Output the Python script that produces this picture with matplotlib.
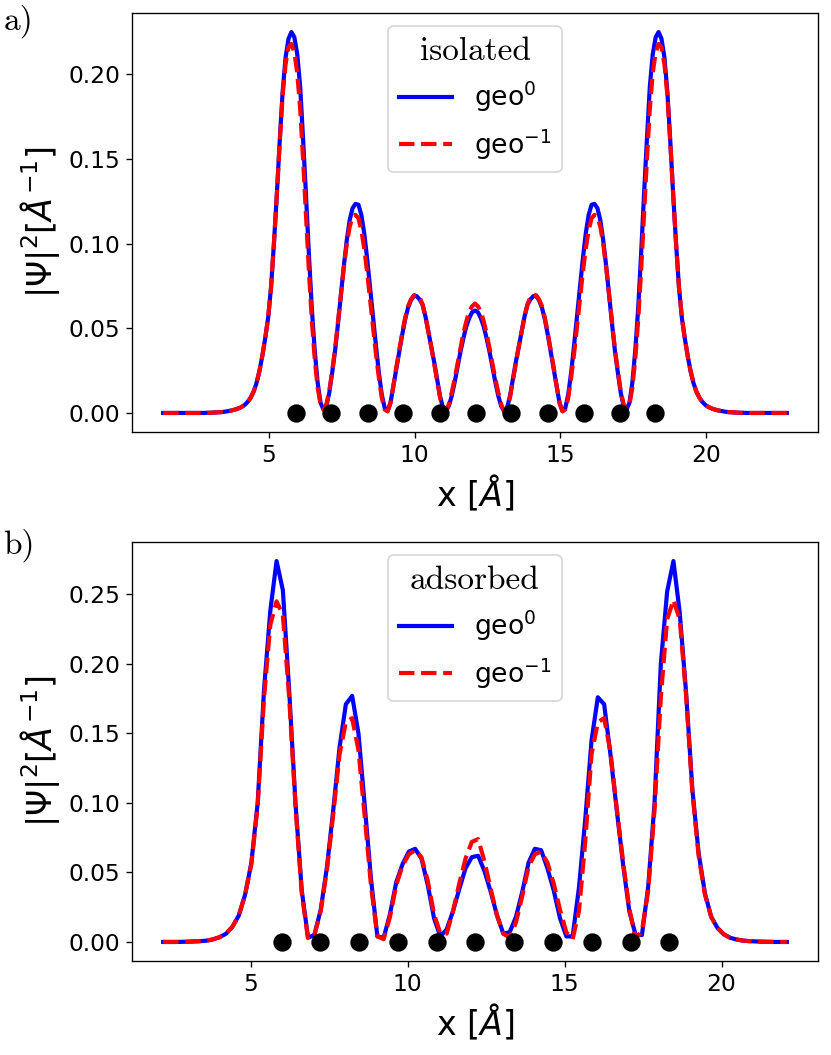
import numpy as np
import matplotlib
matplotlib.use('Agg')
from matplotlib import pyplot as plt
from matplotlib.ticker import MultipleLocator


# sampling grid (start, stop) of the two calculations
xa_start, xa_stop = 1.37, 22.77
xb_start, xb_stop = 2.21, 22.08

# isolated chain, |Psi|^2 on the grid
iso_geo0 = [
    0.0, 0.0, 0.0, 0.0, 0.0, 0.0, 0.0, 0.0, 0.0, 0.0, 0.0, 0.0, 0.0, 0.0, 0.0,
    0.0001, 0.0001, 0.0002, 0.0003, 0.0004, 0.0005, 0.0007, 0.0010, 0.0013, 0.0017,
    0.0022, 0.0028, 0.0036, 0.0048, 0.0066, 0.0090, 0.0125, 0.0175, 0.0245, 0.0335,
    0.044, 0.056, 0.074, 0.100, 0.129, 0.161, 0.190, 0.210, 0.221, 0.225,
    0.222, 0.212, 0.193, 0.162, 0.129, 0.094, 0.062, 0.037, 0.018, 0.006,
    0.002, 0.004, 0.012, 0.024, 0.037, 0.053, 0.070, 0.087, 0.102, 0.114,
    0.121, 0.1235, 0.123, 0.117, 0.106, 0.091, 0.074, 0.057, 0.040, 0.024,
    0.011, 0.003, 0.001, 0.006, 0.016, 0.026, 0.036, 0.046, 0.055, 0.062,
    0.0665, 0.069, 0.069, 0.067, 0.064, 0.057, 0.048, 0.039, 0.030, 0.020,
    0.010, 0.003, 0.001, 0.004, 0.010, 0.018, 0.027, 0.036, 0.044, 0.051,
    0.056, 0.0595, 0.0605,
    0.0595, 0.056, 0.051, 0.044, 0.036, 0.027, 0.018, 0.010, 0.004, 0.001,
    0.003, 0.010, 0.020, 0.030, 0.039, 0.048, 0.057, 0.064, 0.067, 0.069,
    0.069, 0.0665, 0.062, 0.055, 0.046, 0.036, 0.026, 0.016, 0.006, 0.001,
    0.003, 0.011, 0.024, 0.040, 0.057, 0.074, 0.091, 0.106, 0.117, 0.123,
    0.1235, 0.121, 0.114, 0.102, 0.087, 0.070, 0.053, 0.037, 0.024, 0.012,
    0.004, 0.002, 0.006, 0.018, 0.037, 0.062, 0.094, 0.129, 0.162, 0.193,
    0.212, 0.222, 0.225, 0.221, 0.210, 0.190, 0.161, 0.129, 0.100, 0.074,
    0.056, 0.044, 0.0335, 0.0245, 0.0175, 0.0125, 0.0090, 0.0066, 0.0048, 0.0036,
    0.0028, 0.0022, 0.0017, 0.0013, 0.0010, 0.0007, 0.0005, 0.0004, 0.0003, 0.0002,
    0.0001, 0.0001,
    0.0, 0.0, 0.0, 0.0, 0.0, 0.0, 0.0, 0.0, 0.0, 0.0, 0.0, 0.0, 0.0, 0.0, 0.0,
]
iso_geo1 = [
    0.0, 0.0, 0.0, 0.0, 0.0, 0.0, 0.0, 0.0, 0.0, 0.0, 0.0, 0.0, 0.0, 0.0, 0.0,
    0.0001, 0.0001, 0.0002, 0.0003, 0.0004, 0.0005, 0.0007, 0.0010, 0.0013, 0.0017,
    0.0022, 0.0028, 0.0036, 0.0048, 0.0066, 0.0090, 0.0125, 0.0175, 0.0245, 0.0335,
    0.044, 0.056, 0.074, 0.100, 0.129, 0.160, 0.188, 0.206, 0.216, 0.218,
    0.213, 0.201, 0.180, 0.150, 0.117, 0.084, 0.055, 0.032, 0.015, 0.005,
    0.002, 0.005, 0.013, 0.025, 0.038, 0.054, 0.070, 0.086, 0.100, 0.110,
    0.116, 0.117, 0.115, 0.108, 0.097, 0.083, 0.067, 0.051, 0.035, 0.021,
    0.009, 0.002, 0.001, 0.006, 0.016, 0.027, 0.037, 0.047, 0.056, 0.063,
    0.067, 0.0695, 0.070, 0.0685, 0.064, 0.057, 0.048, 0.039, 0.029, 0.019,
    0.009, 0.003, 0.001, 0.005, 0.012, 0.020, 0.029, 0.038, 0.047, 0.054,
    0.060, 0.063, 0.0646,
    0.063, 0.060, 0.054, 0.047, 0.038, 0.029, 0.020, 0.012, 0.005, 0.001,
    0.003, 0.009, 0.019, 0.029, 0.039, 0.048, 0.057, 0.064, 0.0685, 0.070,
    0.0695, 0.067, 0.063, 0.056, 0.047, 0.037, 0.027, 0.016, 0.006, 0.001,
    0.002, 0.009, 0.021, 0.035, 0.051, 0.067, 0.083, 0.097, 0.108, 0.115,
    0.117, 0.116, 0.110, 0.100, 0.086, 0.070, 0.054, 0.038, 0.025, 0.013,
    0.005, 0.002, 0.005, 0.015, 0.032, 0.055, 0.084, 0.117, 0.150, 0.180,
    0.201, 0.213, 0.218, 0.216, 0.206, 0.188, 0.160, 0.129, 0.100, 0.074,
    0.056, 0.044, 0.0335, 0.0245, 0.0175, 0.0125, 0.0090, 0.0066, 0.0048, 0.0036,
    0.0028, 0.0022, 0.0017, 0.0013, 0.0010, 0.0007, 0.0005, 0.0004, 0.0003, 0.0002,
    0.0001, 0.0001,
    0.0, 0.0, 0.0, 0.0, 0.0, 0.0, 0.0, 0.0, 0.0, 0.0, 0.0, 0.0, 0.0, 0.0, 0.0,
]

# adsorbed chain
ads_geo0 = [
    0.0, 0.0, 0.0, 0.0001, 0.0002, 0.0004, 0.0006, 0.001, 0.002, 0.0035,
    0.006, 0.011, 0.019, 0.034, 0.057, 0.100, 0.181, 0.238, 0.274, 0.253,
    0.181, 0.100, 0.037, 0.003, 0.005, 0.023, 0.054, 0.095, 0.140, 0.171,
    0.177, 0.150, 0.098, 0.045, 0.004, 0.003, 0.020, 0.043, 0.056, 0.065,
    0.067, 0.060, 0.041, 0.017, 0.004, 0.009, 0.022, 0.038, 0.053, 0.061,
    0.062, 0.051, 0.036, 0.019, 0.006, 0.007, 0.018, 0.036, 0.057, 0.067,
    0.066, 0.053, 0.037, 0.017, 0.004, 0.004, 0.039, 0.088, 0.145, 0.176,
    0.171, 0.135, 0.095, 0.056, 0.022, 0.005, 0.005, 0.040, 0.100, 0.200,
    0.252, 0.274, 0.237, 0.180, 0.110, 0.064, 0.035, 0.018, 0.010, 0.0055,
    0.003, 0.0018, 0.001, 0.0006, 0.0004, 0.0002, 0.0001, 0.0, 0.0, 0.0,
]
ads_geo1 = [
    0.0, 0.0, 0.0, 0.0001, 0.0002, 0.0004, 0.0006, 0.001, 0.002, 0.0035,
    0.006, 0.011, 0.019, 0.034, 0.056, 0.098, 0.175, 0.228, 0.245, 0.235,
    0.176, 0.098, 0.035, 0.002, 0.005, 0.022, 0.052, 0.092, 0.135, 0.158,
    0.161, 0.138, 0.090, 0.040, 0.004, 0.002, 0.018, 0.041, 0.055, 0.063,
    0.066, 0.061, 0.044, 0.020, 0.006, 0.006, 0.022, 0.042, 0.060, 0.072,
    0.074, 0.058, 0.038, 0.019, 0.006, 0.003, 0.014, 0.033, 0.054, 0.063,
    0.065, 0.057, 0.042, 0.023, 0.007, 0.002, 0.022, 0.072, 0.135, 0.158,
    0.161, 0.137, 0.096, 0.058, 0.024, 0.002, 0.008, 0.037, 0.095, 0.176,
    0.232, 0.246, 0.232, 0.178, 0.108, 0.062, 0.034, 0.018, 0.010, 0.0055,
    0.003, 0.0018, 0.001, 0.0006, 0.0004, 0.0002, 0.0001, 0.0, 0.0, 0.0,
]

# atom positions along the chain
iso_atoms = [5.93, 7.13, 8.39, 9.60, 10.86, 12.09, 13.32, 14.57, 15.80, 17.05, 18.25]
ads_atoms = [6.00, 7.20, 8.45, 9.69, 10.93, 12.16, 13.40, 14.64, 15.88, 17.12, 18.32]

panels = [
    ('a)', 'isolated', xa_start, xa_stop, iso_geo0, iso_geo1, iso_atoms),
    ('b)', 'adsorbed', xb_start, xb_stop, ads_geo0, ads_geo1, ads_atoms),
]

plt.rcParams['font.size'] = 14

W, H, dpi = 831, 1055, 120
fig = plt.figure(figsize=(W / dpi, H / dpi), dpi=dpi)
boxes = [(132, 13, 818, 432), (132, 542, 818, 961)]
label_y = [0.996, 0.499]

for (tag, title, x0, x1, g0, g1, atoms), (l, t, r, b), ly in zip(panels, boxes, label_y):
    ax = fig.add_axes([l / W, 1 - b / H, (r - l) / W, (b - t) / H])
    x = np.linspace(x0, x1, len(g0))
    ax.plot(x, g0, color='blue', lw=2.5, label=r'geo$^0$')
    ax.plot(x, g1, color='red', lw=2.5, ls='--', label=r'geo$^{-1}$')
    ax.plot(atoms, np.zeros(len(atoms)), 'ko', ms=10)
    ax.xaxis.set_major_locator(MultipleLocator(5))
    ax.set_xlabel(r'x [$\AA$]', fontsize=20)
    ax.set_ylabel(r'$|\Psi|^2[\AA^{-1}]$', fontsize=20)
    ax.tick_params(labelsize=14)
    leg = ax.legend(loc='upper center', fontsize=16, title=title,
                    title_fontproperties={'family': 'cmr10', 'size': 20})
    fig.text(0.004, ly, tag, family='cmr10', fontsize=20, va='top', ha='left')

fig.savefig('out.png', dpi=dpi)
